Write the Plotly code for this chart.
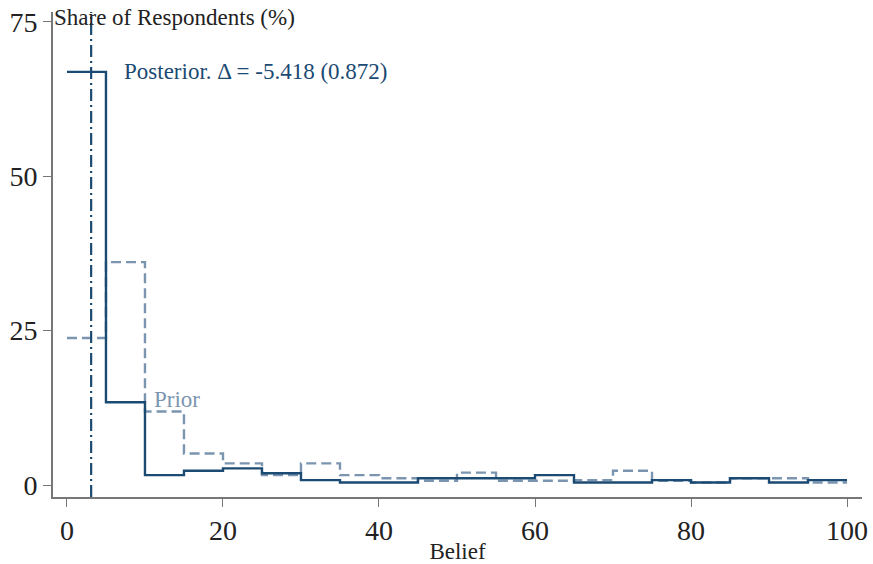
import plotly.graph_objects as go

bin_edges = [0, 5, 10, 15, 20, 25, 30, 35, 40, 45, 50, 55, 60, 65, 70, 75, 80, 85, 90, 95, 100]
posterior = [66.9, 13.4, 1.6, 2.3, 2.7, 1.9, 0.8, 0.4, 0.4, 1.1, 1.1, 1.1, 1.6, 0.4, 0.4, 0.8, 0.4, 1.1, 0.4, 0.8]
prior = [23.8, 36.1, 11.9, 5.1, 3.5, 1.6, 3.5, 1.6, 1.1, 0.7, 2.0, 0.7, 0.7, 0.8, 2.3, 0.7, 0.4, 1.1, 1.1, 0.4]
mean_line_x = 3.1
y_ticks = [0, 25, 50, 75]
x_ticks = [0, 20, 40, 60, 80, 100]
posterior_label = "Posterior. Δ = -5.418 (0.872)"
prior_label = "Prior"

dark = "#1b4a73"
light = "#7b95b0"
font_family = "Liberation Serif"

fig = go.Figure()
fig.add_trace(go.Scatter(
    x=bin_edges, y=prior + [prior[-1]], mode="lines", line_shape="hv",
    line=dict(color=light, width=2.4, dash="10px,5px"), showlegend=False, hoverinfo="skip"))
fig.add_trace(go.Scatter(
    x=bin_edges, y=posterior + [posterior[-1]], mode="lines", line_shape="hv",
    line=dict(color=dark, width=2.4), showlegend=False, hoverinfo="skip"))
fig.add_trace(go.Scatter(
    x=[mean_line_x, mean_line_x], y=[-1.94, 76.6], mode="lines",
    line=dict(color=dark, width=2.2, dash="12px,4px,2px,4px"), showlegend=False, hoverinfo="skip"))

fig.add_annotation(x=7.05, y=66.9, xref="x", yref="y", text=posterior_label, showarrow=False,
                   xanchor="left", yanchor="middle", font=dict(family=font_family, size=23, color=dark))
fig.add_annotation(x=10.9, y=13.8, xref="x", yref="y", text=prior_label, showarrow=False,
                   xanchor="left", yanchor="middle", font=dict(family=font_family, size=23, color=light))
fig.add_annotation(x=0, y=0.988, xref="paper", yref="paper", text="Share of Respondents (%)", showarrow=False,
                   xanchor="left", yanchor="middle", xshift=-1, font=dict(family=font_family, size=23, color="#222"))

fig.update_layout(
    width=873, height=564,
    margin=dict(l=53, r=11, t=12, b=67),
    plot_bgcolor="white", paper_bgcolor="white",
    font=dict(family=font_family, color="#222"),
    xaxis=dict(range=[-1.79, 101.92], tickvals=x_ticks, showgrid=False, zeroline=False, automargin=False,
               showline=True, linecolor="#777", linewidth=1.6, ticks="outside", ticklen=8,
               tickcolor="#777", tickwidth=1.4, tickfont=dict(size=28, family=font_family, color="#222"),
               title=dict(text="Belief", font=dict(size=23, family=font_family, color="#222"), standoff=2)),
    yaxis=dict(range=[-1.94, 76.6], tickvals=y_ticks, showgrid=False, zeroline=False, automargin=False,
               showline=True, linecolor="#777", linewidth=1.6, ticks="outside", ticklen=8,
               tickcolor="#777", tickwidth=1.4, tickfont=dict(size=28, family=font_family, color="#222")),
)

fig.write_html("out.html")
